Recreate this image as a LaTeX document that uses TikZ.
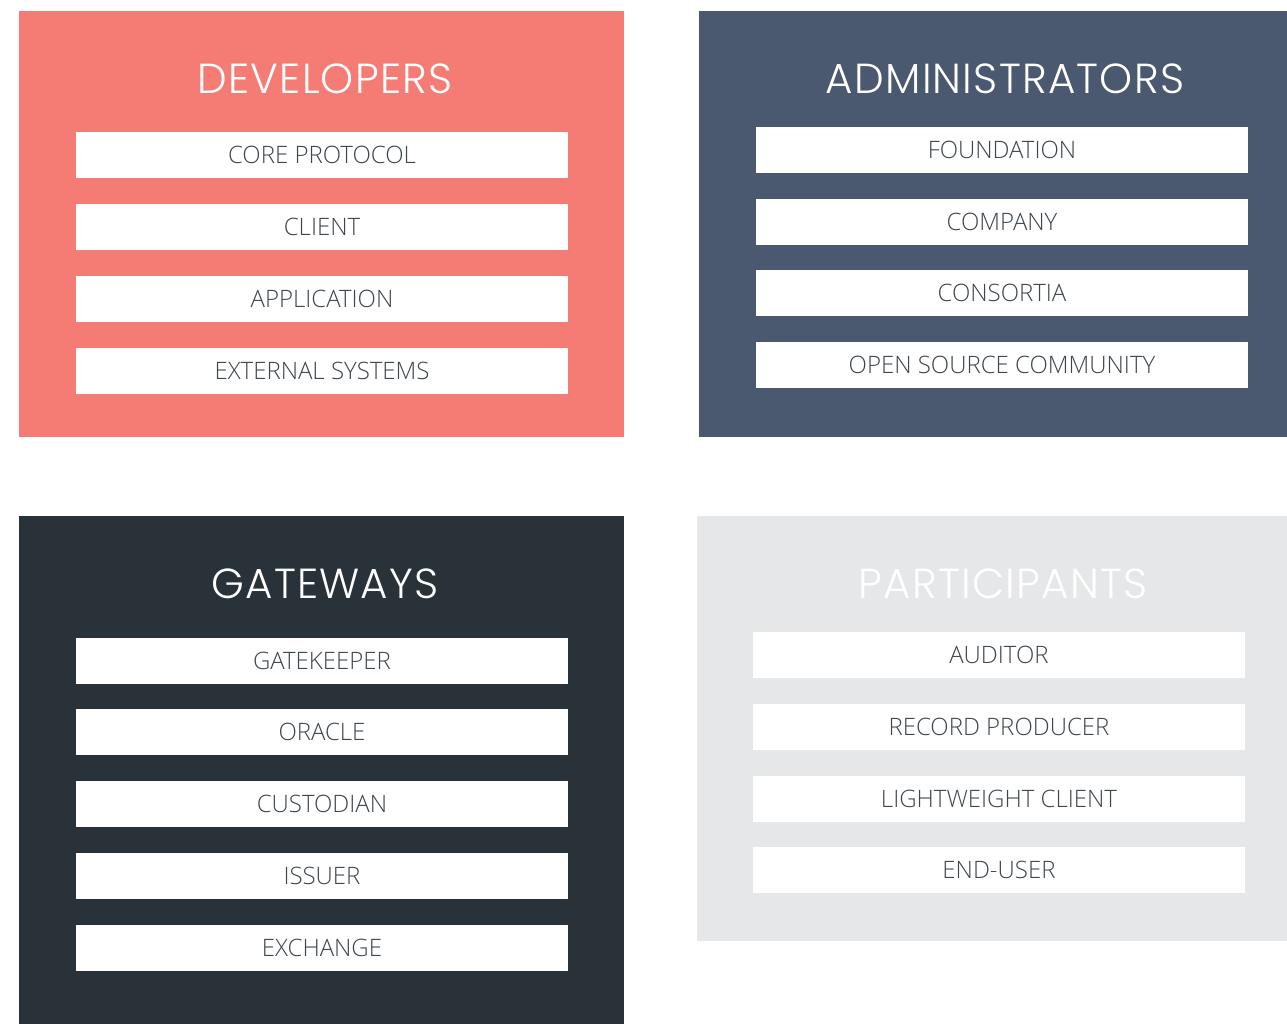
\documentclass[tikz,border=0pt]{standalone}
\usepackage{fontspec}
\setmainfont{Open Sans Light}
\newfontfamily\titlefont[LetterSpace=3]{Poppins Light}
\usepackage{tikz}
\usetikzlibrary{positioning}

\definecolor{devred}{HTML}{F47C74}
\definecolor{adminblue}{HTML}{4A5870}
\definecolor{gatedark}{HTML}{283238}
\definecolor{partgray}{HTML}{E6E7E8}
\definecolor{itemtext}{HTML}{3D464D}

\begin{document}
\begin{tikzpicture}[x=1pt,y=-1pt]
	\tikzstyle{panel} = [rectangle, inner sep=0pt, anchor=north west]
	\tikzstyle{heading} = [text=white, font=\titlefont\fontsize{42}{42}\selectfont]
	\tikzstyle{item} = [rectangle, fill=white, text=itemtext, minimum height=46pt, minimum width=492pt, inner sep=0pt, font=\fontsize{24}{24}\selectfont]
	
	\useasboundingbox (0,0) rectangle (1287,1024);
	
	\node [panel, fill=devred, minimum width=605pt, minimum height=426pt] (dev) at (19,11) {};
	\node [panel, fill=adminblue, minimum width=588pt, minimum height=426pt] (admin) at (699,11) {};
	\node [panel, fill=gatedark, minimum width=605pt, minimum height=508pt] (gate) at (19,516) {};
	\node [panel, fill=partgray, minimum width=590pt, minimum height=425pt] (part) at (697,516) {};
	
	\node [heading] (devtitle) at (325,79) {DEVELOPERS};
	\node [heading] (admintitle) at (1005,79) {ADMINISTRATORS};
	\node [heading] (gatetitle) at (325,584) {GATEWAYS};
	\node [heading] (parttitle) at (1003,584) {PARTICIPANTS};
	
	% developers
	\node [item] (core) at (322,155) {CORE PROTOCOL};
	\node [item, below = 25.5pt of core] (client) {CLIENT};
	\node [item, below = 25.5pt of client] (application) {APPLICATION};
	\node [item, below = 25.5pt of application] (external) {EXTERNAL SYSTEMS};
	
	% administrators
	\node [item] (foundation) at (1002,150) {FOUNDATION};
	\node [item, below = 25.5pt of foundation] (company) {COMPANY};
	\node [item, below = 25pt of company] (consortia) {CONSORTIA};
	\node [item, below = 25.5pt of consortia] (community) {OPEN SOURCE COMMUNITY};
	
	% gateways
	\node [item] (gatekeeper) at (322,661) {GATEKEEPER};
	\node [item, below = 25pt of gatekeeper] (oracle) {ORACLE};
	\node [item, below = 25.5pt of oracle] (custodian) {CUSTODIAN};
	\node [item, below = 25.5pt of custodian] (issuer) {ISSUER};
	\node [item, below = 25.5pt of issuer] (exchange) {EXCHANGE};
	
	% participants
	\node [item] (auditor) at (999,655) {AUDITOR};
	\node [item, below = 25.5pt of auditor] (producer) {RECORD PRODUCER};
	\node [item, below = 25.5pt of producer] (lightclient) {LIGHTWEIGHT CLIENT};
	\node [item, below = 25pt of lightclient] (enduser) {END-USER};
	
\end{tikzpicture}
\end{document}
